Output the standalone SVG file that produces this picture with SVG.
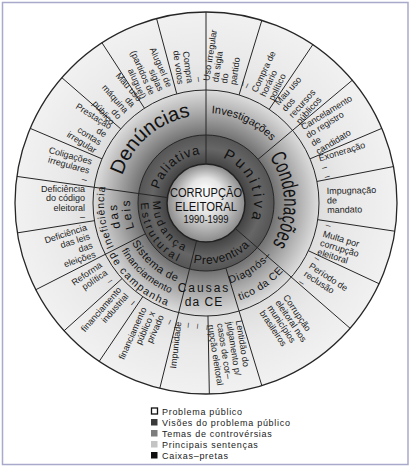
<svg xmlns="http://www.w3.org/2000/svg" width="412" height="468" viewBox="0 0 412 468">
<defs>
<style>
.c{font-family:"Liberation Sans",Arial,sans-serif;font-size:9px;fill:#222}
.ce{font-family:"Liberation Sans",Arial,sans-serif;font-size:9px;fill:#222;text-anchor:end}
.lb{font-family:"Liberation Sans",Arial,sans-serif;fill:#111}
.dv{stroke:#262626;stroke-width:1;fill:none}
.lg{font-family:"Liberation Sans",Arial,sans-serif;font-size:9px;fill:#222;letter-spacing:0.7px}
</style>
<radialGradient id="gC" gradientUnits="userSpaceOnUse" cx="206" cy="203" r="39" fx="205" fy="190">
<stop offset="0" stop-color="#ffffff"/><stop offset="0.45" stop-color="#e4e4e4"/><stop offset="1" stop-color="#8a8a8a"/>
</radialGradient>
<radialGradient id="g2" gradientUnits="userSpaceOnUse" cx="206" cy="203" r="68">
<stop offset="0.57" stop-color="#424242"/><stop offset="0.8" stop-color="#666666"/><stop offset="1" stop-color="#555555"/>
</radialGradient>
<radialGradient id="g3" gradientUnits="userSpaceOnUse" cx="206" cy="203" r="113">
<stop offset="0.6" stop-color="#717171"/><stop offset="0.8" stop-color="#aaaaaa"/><stop offset="1" stop-color="#dddddd"/>
</radialGradient>
<radialGradient id="g4" gradientUnits="userSpaceOnUse" cx="206" cy="203" r="191">
<stop offset="0.59" stop-color="#dedede"/><stop offset="0.75" stop-color="#e9e9e9"/><stop offset="1" stop-color="#f1f1f1"/>
</radialGradient>
<path id="pDen" d="M118.01,204.54 A88,88 0 0 1 219.77,116.08"/>
<path id="pInv" d="M167.96,121.43 A90,90 0 0 1 292.93,179.71"/>
<path id="pCon" d="M242.62,134.13 A78,78 0 0 1 247.33,269.15"/>
<path id="pDia1" d="M211.86,286.80 A84,84 0 0 0 281.50,239.82"/>
<path id="pDia2" d="M213.19,305.75 A103,103 0 0 0 298.58,248.15"/>
<path id="pSis1" d="M122.01,201.53 A84,84 0 0 0 219.14,285.96"/>
<path id="pSis2" d="M109.01,201.31 A97,97 0 0 0 221.17,298.81"/>
<path id="pSis3" d="M96.02,201.08 A110,110 0 0 0 223.21,311.65"/>
<path id="pIne1" d="M151.95,289.50 A102,102 0 0 1 130.20,134.75"/>
<path id="pIne2" d="M158.84,278.48 A89,89 0 0 1 139.86,143.45"/>
<path id="pIne3" d="M165.73,267.45 A76,76 0 0 1 149.52,152.15"/>
<path id="pPal" d="M157.74,211.51 A49,49 0 0 1 222.76,156.96"/>
<path id="pPun" d="M211.43,155.31 A48,48 0 0 1 244.59,231.55"/>
<path id="pPre" d="M164.40,247.61 A61,61 0 0 0 265.44,216.72"/>
<path id="pMud" d="M158.78,178.94 A53,53 0 0 0 208.77,255.93"/>
<path id="pEst" d="M148.08,173.49 A65,65 0 0 0 209.40,267.91"/>
</defs>
<rect x="0" y="0" width="412" height="468" fill="#ffffff"/>
<rect x="2.5" y="2.5" width="405.5" height="462" fill="#ffffff" stroke="#a9a9cc" stroke-width="1.5"/>

<g id="rings">
<circle cx="206" cy="203" r="191" fill="url(#g4)" stroke="#262626" stroke-width="1.3"/>
<circle cx="206" cy="203" r="113" fill="url(#g3)" stroke="#262626" stroke-width="1"/>
<circle cx="206" cy="203" r="68" fill="url(#g2)" stroke="#262626" stroke-width="1"/>
<circle cx="206" cy="203" r="39" fill="url(#gC)" stroke="#222" stroke-width="1.5"/>
</g>

<g id="connectors">
<line class="dv" x1="206" y1="164" x2="206" y2="12"/>
<line class="dv" x1="235.43" y1="228.59" x2="350.15" y2="328.31"/>
<line class="dv" x1="196.56" y1="240.84" x2="159.79" y2="388.33"/>
<line class="dv" x1="167.38" y1="197.57" x2="16.86" y2="176.42"/>
<line class="dv" x1="258.09" y1="159.29" x2="352.31" y2="80.23"/>
<line class="dv" x1="225.88" y1="268.03" x2="261.84" y2="385.65"/>
<line class="dv" x1="145.41" y1="233.87" x2="35.82" y2="289.71"/>
<line class="dv" x1="239.04" y1="94.94" x2="261.84" y2="20.35"/>
<line class="dv" x1="269.19" y1="109.32" x2="312.81" y2="44.65"/>
<line class="dv" x1="310.02" y1="158.85" x2="381.82" y2="128.37"/>
<line class="dv" x1="316.92" y1="181.44" x2="393.49" y2="166.55"/>
<line class="dv" x1="317.76" y1="219.70" x2="394.90" y2="231.23"/>
<line class="dv" x1="308.41" y1="250.76" x2="379.11" y2="283.72"/>
<line class="dv" x1="207.97" y1="315.98" x2="209.33" y2="393.97"/>
<line class="dv" x1="142.81" y1="296.68" x2="99.19" y2="361.35"/>
<line class="dv" x1="122.03" y1="278.61" x2="64.06" y2="330.80"/>
<line class="dv" x1="94.39" y1="220.68" x2="17.35" y2="232.88"/>
<line class="dv" x1="101.98" y1="158.85" x2="30.18" y2="128.37"/>
<line class="dv" x1="120.72" y1="128.87" x2="61.85" y2="77.69"/>
<line class="dv" x1="144.46" y1="108.23" x2="101.97" y2="42.81"/>
<line class="dv" x1="176.75" y1="93.85" x2="156.57" y2="18.51"/>
</g>

<g id="center">
<text class="lb" x="206" y="197" font-size="12.5" text-anchor="middle" textLength="72" lengthAdjust="spacingAndGlyphs">CORRUPÇÃO</text>
<text class="lb" x="206" y="211" font-size="12.5" text-anchor="middle" textLength="62" lengthAdjust="spacingAndGlyphs">ELEITORAL</text>
<text class="lb" x="206" y="222.5" font-size="10" text-anchor="middle" textLength="45" lengthAdjust="spacingAndGlyphs">1990-1999</text>
</g>

<g id="paliativa"><text class="lb" font-size="13" letter-spacing="1"><textPath href="#pPal" startOffset="50%" text-anchor="middle">Paliativa</textPath></text></g>
<g id="punitiva"><text class="lb" font-size="15" letter-spacing="3"><textPath href="#pPun" startOffset="50%" text-anchor="middle">Punitiva</textPath></text></g>
<g id="preventiva"><text class="lb" font-size="12" letter-spacing="0.5"><textPath href="#pPre" startOffset="50%" text-anchor="middle">Preventiva</textPath></text></g>
<g id="mudanca">
<text class="lb" font-size="11" letter-spacing="2.8"><textPath href="#pMud" startOffset="50%" text-anchor="middle">Mudança</textPath></text>
<text class="lb" font-size="11" letter-spacing="2.8"><textPath href="#pEst" startOffset="50%" text-anchor="middle">Estrutural</textPath></text>
</g>

<g id="denuncias"><text class="lb" font-size="20"><textPath href="#pDen" startOffset="50%" text-anchor="middle">Denúncias</textPath></text></g>
<g id="investigacoes"><text class="lb" font-size="11"><textPath href="#pInv" startOffset="50%" text-anchor="middle">Investigações</textPath></text></g>
<g id="condenacoes"><text class="lb" font-size="22"><textPath href="#pCon" startOffset="50%" text-anchor="middle" textLength="92" lengthAdjust="spacingAndGlyphs">Condenações</textPath></text></g>
<g id="diagnostico">
<text class="lb" font-size="10.5" letter-spacing="0.8"><textPath href="#pDia1" startOffset="50%" text-anchor="middle">Diagnós–</textPath></text>
<text class="lb" font-size="10.5" letter-spacing="0.5"><textPath href="#pDia2" startOffset="50%" text-anchor="middle">tico da CE</textPath></text>
</g>
<g id="causas">
<text class="lb" x="204" y="292" font-size="12" letter-spacing="2" text-anchor="middle">Causas</text>
<text class="lb" x="204" y="306" font-size="12" letter-spacing="1" text-anchor="middle">da CE</text>
</g>
<g id="sistema">
<text class="lb" font-size="11" letter-spacing="0.6"><textPath href="#pSis1" startOffset="50%" text-anchor="middle">Sistema de</textPath></text>
<text class="lb" font-size="10" letter-spacing="0.3"><textPath href="#pSis2" startOffset="50%" text-anchor="middle">financiamento</textPath></text>
<text class="lb" font-size="10.5" letter-spacing="1.5"><textPath href="#pSis3" startOffset="50%" text-anchor="middle">de campanha</textPath></text>
</g>
<g id="ineficiencia">
<text class="lb" font-size="10.5" letter-spacing="0.8"><textPath href="#pIne1" startOffset="50%" text-anchor="middle">Ineficiência</textPath></text>
<text class="lb" font-size="12" letter-spacing="2"><textPath href="#pIne2" startOffset="50%" text-anchor="middle">das</textPath></text>
<text class="lb" font-size="12" letter-spacing="2"><textPath href="#pIne3" startOffset="50%" text-anchor="middle">Leis</textPath></text>
</g>

<g id="c01" transform="rotate(-81.5 206 203)"><text class="c"><tspan x="327" y="188.2">Uso irregular</tspan><tspan x="327" y="197.2">da sigla</tspan><tspan x="327" y="206.2">do</tspan><tspan x="327" y="215.2">partido</tspan><tspan x="327" y="224.2">–</tspan></text></g>
<g id="c02" transform="rotate(-64.5 206 203)"><text class="c"><tspan x="327" y="191.95">–</tspan><tspan x="327" y="201.45">Compra de</tspan><tspan x="327" y="210.95">horário</tspan><tspan x="327" y="220.45">político</tspan></text></g>
<g id="c03" transform="rotate(-48 206 203)"><text class="c"><tspan x="327" y="191.95">Mau uso</tspan><tspan x="327" y="201.45">dos</tspan><tspan x="327" y="210.95">recursos</tspan><tspan x="327" y="220.45">públicos</tspan></text></g>
<g id="c04" transform="rotate(-31.5 206 203)"><text class="c"><tspan x="327" y="191.95">Cancelamento</tspan><tspan x="327" y="201.45">do registro</tspan><tspan x="327" y="210.95">de</tspan><tspan x="327" y="220.45">candidato</tspan></text></g>
<g id="c05" transform="rotate(-17 206 203)"><text class="c"><tspan x="327" y="196.7">Exoneração</tspan><tspan x="327" y="206.2">–</tspan><tspan x="327" y="215.7">–</tspan></text></g>
<g id="c06" transform="rotate(-1.25 206 203)"><text class="c"><tspan x="327" y="196.7">Impugnação</tspan><tspan x="327" y="206.2">de</tspan><tspan x="327" y="215.7">mandato</tspan></text></g>
<g id="c07" transform="rotate(16.75 206 203)"><text class="c"><tspan x="327" y="191.95">–</tspan><tspan x="327" y="201.45">Multa por</tspan><tspan x="327" y="210.95">corrupção</tspan><tspan x="327" y="220.45">eleitoral</tspan></text></g>
<g id="c08" transform="rotate(33 206 203)"><text class="c"><tspan x="327" y="191.95">–</tspan><tspan x="327" y="201.45">Período de</tspan><tspan x="327" y="210.95">reclusão</tspan><tspan x="327" y="220.45">–</tspan></text></g>
<g id="c09" transform="rotate(56 206 203)"><text class="c"><tspan x="327" y="191.95">Corrupção</tspan><tspan x="327" y="201.45">eleitoral nos</tspan><tspan x="327" y="210.95">municípios</tspan><tspan x="327" y="220.45">brasileiros</tspan></text></g>
<g id="c10" transform="rotate(81 206 203)"><text class="c"><tspan x="327" y="191.95">Lentidão do</tspan><tspan x="327" y="201.45">julgamento p/</tspan><tspan x="327" y="210.95">casos de cor–</tspan><tspan x="327" y="220.45">rupção eleitoral</tspan></text></g>
<g id="c11" transform="rotate(-83.5 206 203)"><text class="ce"><tspan x="85" y="191.95">Impunidade</tspan><tspan x="85" y="201.45">–</tspan><tspan x="85" y="210.95">–</tspan><tspan x="85" y="220.45">–</tspan></text></g>
<g id="c12" transform="rotate(-66 206 203)"><text class="ce"><tspan x="85" y="191.95">financiamento</tspan><tspan x="85" y="201.45">público x</tspan><tspan x="85" y="210.95">privado</tspan><tspan x="85" y="220.45">–</tspan></text></g>
<g id="c13" transform="rotate(-49 206 203)"><text class="ce"><tspan x="85" y="196.7">financiamento</tspan><tspan x="85" y="206.2">industrial</tspan><tspan x="85" y="215.7">–</tspan></text></g>
<g id="c14" transform="rotate(-34.5 206 203)"><text class="ce"><tspan x="85" y="196.7">Reforma</tspan><tspan x="85" y="206.2">política</tspan><tspan x="85" y="215.7">–</tspan></text></g>
<g id="c15" transform="rotate(-18 206 203)"><text class="ce"><tspan x="85" y="191.95">Deficiência</tspan><tspan x="85" y="201.45">das leis</tspan><tspan x="85" y="210.95">das</tspan><tspan x="85" y="220.45">eleições</tspan></text></g>
<g id="c16" transform="rotate(0 206 203)"><text class="ce"><tspan x="85" y="191.95">Deficiência</tspan><tspan x="85" y="201.45">do código</tspan><tspan x="85" y="210.95">eleitoral</tspan><tspan x="85" y="220.45">–</tspan></text></g>
<g id="c17" transform="rotate(15.5 206 203)"><text class="ce"><tspan x="85" y="196.7">Coligações</tspan><tspan x="85" y="206.2">irregulares</tspan><tspan x="85" y="215.7">–</tspan></text></g>
<g id="c18" transform="rotate(32 206 203)"><text class="ce"><tspan x="85" y="191.95">Prestação</tspan><tspan x="85" y="201.45">de</tspan><tspan x="85" y="210.95">contas</tspan><tspan x="85" y="220.45">irregular</tspan></text></g>
<g id="c19" transform="rotate(49 206 203)"><text class="ce"><tspan x="85" y="188.2">Mau uso</tspan><tspan x="85" y="197.2">da</tspan><tspan x="85" y="206.2">máquina</tspan><tspan x="85" y="215.2">do</tspan><tspan x="85" y="224.2">público</tspan></text></g>
<g id="c20" transform="rotate(66 206 203)"><text class="ce"><tspan x="85" y="191.95">Aluguel de</tspan><tspan x="85" y="201.45">siglas</tspan><tspan x="85" y="210.95">(partidos de</tspan><tspan x="85" y="220.45">aluguel)</tspan></text></g>
<g id="c21" transform="rotate(82.5 206 203)"><text class="ce"><tspan x="85" y="196.7">–</tspan><tspan x="85" y="206.2">Compra</tspan><tspan x="85" y="215.7">de votos</tspan></text></g>

<g id="legend">
<rect x="151.5" y="408" width="6" height="6" fill="#ffffff" stroke="#111" stroke-width="1.3"/>
<text class="lg" x="162" y="414.5">Problema público</text>
<rect x="151" y="419" width="6.5" height="6.5" fill="#3a3a3a"/>
<text class="lg" x="162" y="425.5">Visões do problema público</text>
<rect x="151" y="430" width="6.5" height="6.5" fill="#7d7d7d"/>
<text class="lg" x="162" y="436.5">Temas de controvérsias</text>
<rect x="151" y="441" width="6.5" height="6.5" fill="#c4c4c4"/>
<text class="lg" x="162" y="447.5">Principais sentenças</text>
<rect x="151" y="452" width="6.5" height="6.5" fill="#111111"/>
<text class="lg" x="162" y="458.5">Caixas–pretas</text>
</g>
</svg>
